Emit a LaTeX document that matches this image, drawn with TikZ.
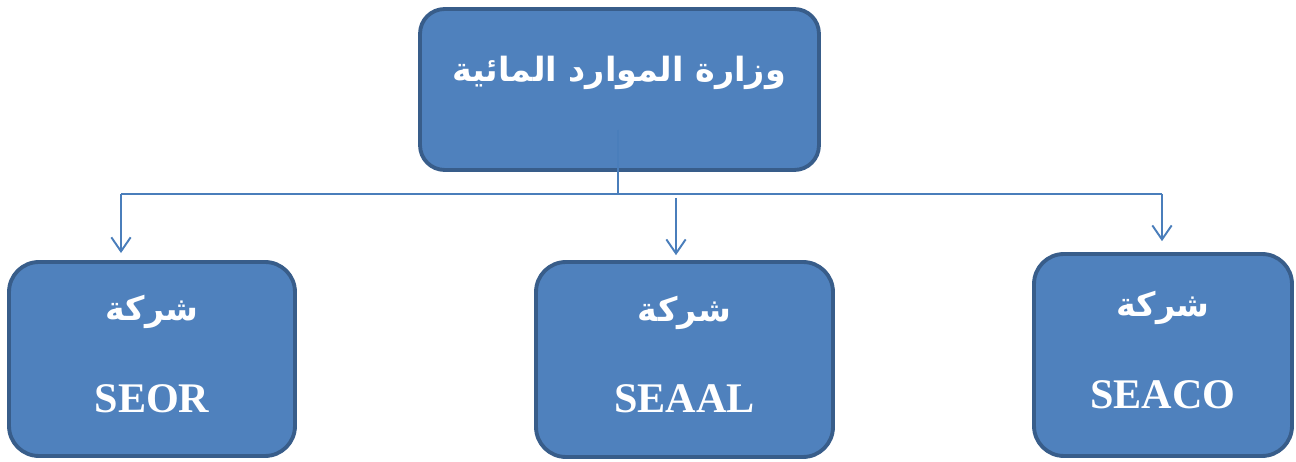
\documentclass[tikz,border=0pt]{standalone}
\usepackage{fontspec}
\setmainfont{Liberation Serif}
\newfontfamily\arabicfont[Script=Arabic]{DejaVu Sans}
\TeXXeTstate=1
\usetikzlibrary{arrows.meta}
\definecolor{boxfill}{HTML}{4F81BD}
\definecolor{boxline}{HTML}{385D8A}
\definecolor{wirecol}{HTML}{4A7EBB}

\begin{document}
\begin{tikzpicture}
  [x=0.02cm,y=-0.02cm,
   every node/.style={rectangle,rounded corners=17pt,fill=boxfill,draw=boxline,line width=2.2pt,
     text=white,font=\bfseries\fontsize{24}{28}\selectfont,align=center},
   txt/.style={draw=none,fill=none},
   wire/.style={draw=wirecol,line width=1.1pt},
   arr/.style={wire,-{Straight Barb[length=8pt,width=11pt]}}]
  \useasboundingbox (0,0) rectangle (1296,462);
  \node[minimum width=7.98cm,minimum height=3.22cm,rounded corners=14pt] (wizara) at (619.5,89.5) {};
  \node[txt] (wizaratxt) at (619,73) {\arabicfont\fontsize{19}{24}\selectfont\beginR وزارة الموارد المائية\endR};
  \node[minimum width=5.72cm,minimum height=3.88cm] (seor) at (152,359)
    {{\arabicfont\fontsize{19}{24}\selectfont\beginR شركة\endR}\\[24pt]SEOR\\[-22pt]\mbox{}};
  \node[minimum width=5.94cm,minimum height=3.9cm] (seaal) at (684.5,359.5)
    {{\arabicfont\fontsize{19}{24}\selectfont\beginR شركة\endR}\\[24pt]SEAAL\\[-22pt]\mbox{}};
  \node[minimum width=5.16cm,minimum height=4.04cm] (seaco) at (1163,355)
    {{\arabicfont\fontsize{19}{24}\selectfont\beginR شركة\endR}\\[24pt]SEACO\\[-22pt]\mbox{}};

  \coordinate (stem) at (618,130);
  \coordinate (hub) at (618,194);
  \coordinate (jl) at (121,194);
  \coordinate (jm) at (676,198);
  \coordinate (jr) at (1162,194);

  \draw[wire] (stem) -- (hub);
  \draw[wire] (jl) -- (jr);
  \foreach \from/\to/\gap in {jl/seor/4pt,jm/seaal/2.8pt,jr/seaco/6.2pt}
    \draw[arr,shorten >=\gap] (\from) -- (\from |- \to.north);
\end{tikzpicture}
\end{document}
